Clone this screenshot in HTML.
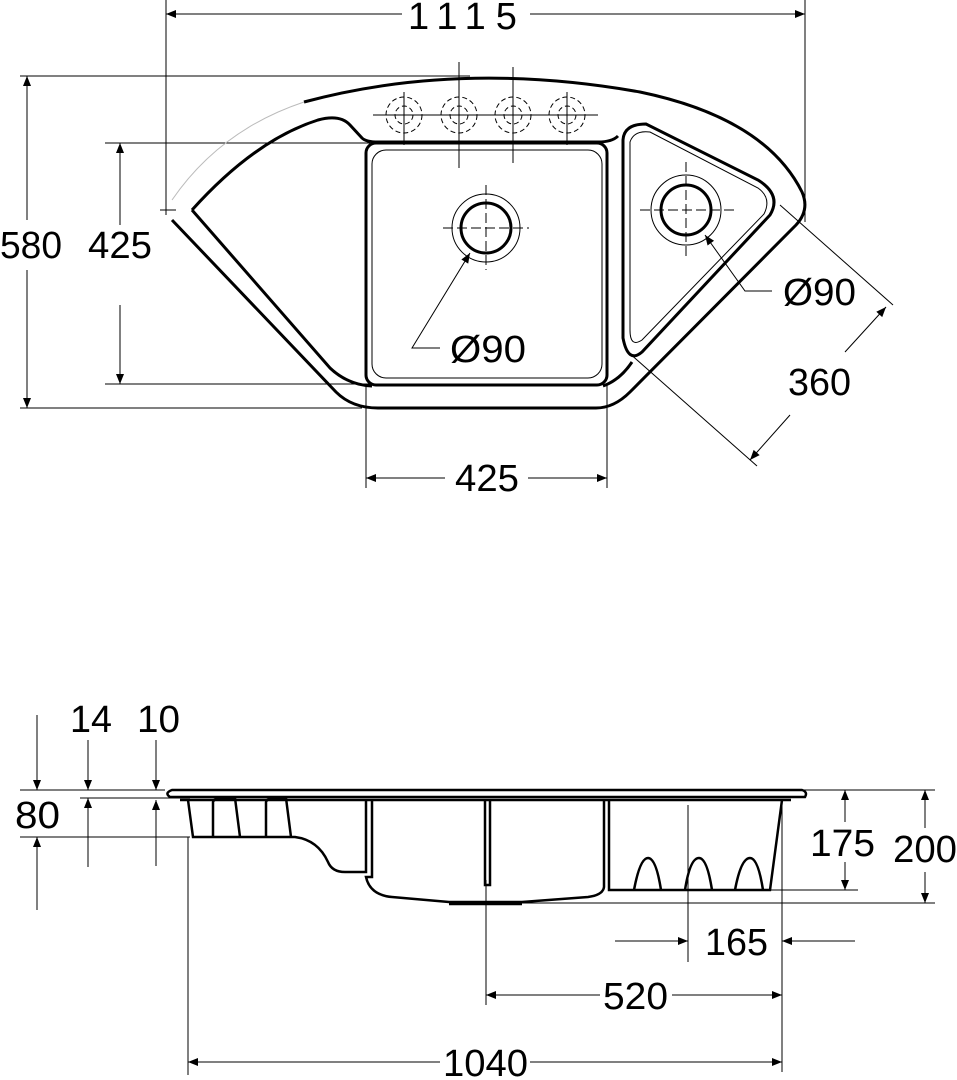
<!DOCTYPE html>
<html><head><meta charset="utf-8"><style>
html,body{margin:0;padding:0;background:#fff;}
svg{display:block;}
text{font-family:"Liberation Sans",sans-serif;font-size:38px;fill:#000;}
</style></head><body>
<svg width="957" height="1080" viewBox="0 0 957 1080" xmlns="http://www.w3.org/2000/svg">
<defs>
<marker id="a" viewBox="0 0 10 10" refX="10" refY="5" markerWidth="22" markerHeight="10" markerUnits="userSpaceOnUse" orient="auto-start-reverse"><path d="M0,1 L10,5 L0,9 Z" fill="#000"/></marker>
</defs>
<g fill="none" stroke="#000" stroke-width="1">
<line x1="166" y1="0" x2="166" y2="215"/><line x1="805" y1="0" x2="805" y2="222"/>
<line x1="166" y1="14" x2="402" y2="14" marker-start="url(#a)"/><line x1="530" y1="14" x2="805" y2="14" marker-end="url(#a)"/>
<line x1="20" y1="76" x2="470" y2="76"/><line x1="20" y1="408" x2="362" y2="408"/>
<line x1="27" y1="76" x2="27" y2="220" marker-start="url(#a)"/><line x1="27" y1="270" x2="27" y2="408" marker-end="url(#a)"/>
<line x1="105" y1="143" x2="370" y2="143"/><line x1="105" y1="384" x2="370" y2="384"/>
<line x1="120" y1="143" x2="120" y2="225" marker-start="url(#a)"/><line x1="120" y1="305" x2="120" y2="384" marker-end="url(#a)"/>
<line x1="366" y1="385" x2="366" y2="488"/><line x1="607" y1="385" x2="607" y2="488"/>
<line x1="366" y1="478" x2="445" y2="478" marker-start="url(#a)"/><line x1="528" y1="478" x2="607" y2="478" marker-end="url(#a)"/>
<line x1="780" y1="205" x2="893" y2="305"/><line x1="628" y1="352" x2="757" y2="466"/>
<line x1="750" y1="460" x2="790" y2="415" marker-start="url(#a)"/><line x1="845" y1="352" x2="886" y2="307" marker-end="url(#a)"/>
<polyline points="440,348 412,348 470,253" marker-end="url(#a)"/>
<polyline points="772,291 745,291 705,235" marker-end="url(#a)"/>
</g>
<g fill="none" stroke="#000" stroke-width="3">
<path d="M304,102 Q460,60 640,92 Q765,118 802,192 Q810,210 796,225 L630,392 Q614,408 596,408 L378,408 Q352,408 336,392 L172,220"/>
<path d="M192,210 Q255,140 318,120 Q340,114 350,125 L362,138 Q366,142 378,142 L598,142 Q612,142 618,136"/>
<path d="M192,210 L330,368 Q348,385 372,386"/>
<path d="M603,386 Q620,380 632,362"/>
<rect x="366" y="143" width="241" height="242" rx="10"/>
<path d="M623,140 Q624,124 646,124 L758,180 Q782,195 770,215 L642,352 Q628,364 623,338 Z"/>
<circle cx="486" cy="228" r="25"/>
<circle cx="686" cy="210" r="25"/>
</g>
<g fill="none" stroke="#000" stroke-width="1">
<path d="M172,200 Q220,130 304,102" stroke="#bbb"/>
<line x1="160" y1="210" x2="176" y2="210"/>
<rect x="372" y="150" width="230" height="228" rx="14"/>
<path d="M630,142 Q634,130 650,132 L758,188 Q772,198 764,214 L642,340 Q630,348 630,330 Z"/>
<circle cx="486" cy="228" r="34"/>
<circle cx="686" cy="210" r="35"/>
<g stroke-dasharray="10,4">
<line x1="443" y1="228" x2="529" y2="228"/><line x1="486" y1="185" x2="486" y2="270"/>
<line x1="640" y1="210" x2="735" y2="210"/><line x1="686" y1="162" x2="686" y2="258"/>
</g>
<line x1="459" y1="62" x2="459" y2="168"/><line x1="513" y1="67" x2="513" y2="163"/>
<line x1="404" y1="92" x2="404" y2="145"/><line x1="567" y1="92" x2="567" y2="145"/>
<line x1="373" y1="115" x2="598" y2="115"/>
<g stroke-dasharray="5,3">
<circle cx="404" cy="115" r="18"/><circle cx="459" cy="115" r="18"/><circle cx="513" cy="115" r="18"/><circle cx="567" cy="115" r="18"/>
<circle cx="404" cy="115" r="9"/><circle cx="459" cy="115" r="9"/><circle cx="513" cy="115" r="9"/><circle cx="567" cy="115" r="9"/>
</g>
</g>
<g>
<text x="408" y="29" letter-spacing="10">1115</text>
<text x="0" y="258" textLength="62" lengthAdjust="spacingAndGlyphs">580</text>
<text x="88" y="258" textLength="64" lengthAdjust="spacingAndGlyphs">425</text>
<text x="450" y="362" textLength="76" lengthAdjust="spacingAndGlyphs">Ø90</text>
<text x="783" y="305" textLength="73" lengthAdjust="spacingAndGlyphs">Ø90</text>
<text x="788" y="395" textLength="63" lengthAdjust="spacingAndGlyphs">360</text>
<text x="455" y="491" textLength="64" lengthAdjust="spacingAndGlyphs">425</text>
</g>
<g fill="none" stroke="#000" stroke-width="1">
<line x1="37" y1="715" x2="37" y2="790" marker-end="url(#a)"/><line x1="37" y1="910" x2="37" y2="837" marker-end="url(#a)"/>
<line x1="20" y1="790" x2="165" y2="790"/><line x1="20" y1="837" x2="190" y2="837"/>
<line x1="88" y1="740" x2="88" y2="790" marker-end="url(#a)"/><line x1="88" y1="867" x2="88" y2="798" marker-end="url(#a)"/>
<line x1="80" y1="798" x2="190" y2="798"/>
<line x1="156" y1="740" x2="156" y2="790" marker-end="url(#a)"/><line x1="156" y1="866" x2="156" y2="800" marker-end="url(#a)"/>
<line x1="800" y1="790" x2="935" y2="790"/><line x1="770" y1="890" x2="858" y2="890"/><line x1="520" y1="903" x2="935" y2="903"/>
<line x1="845" y1="790" x2="845" y2="822" marker-start="url(#a)"/><line x1="845" y1="862" x2="845" y2="890" marker-end="url(#a)"/>
<line x1="925" y1="790" x2="925" y2="828" marker-start="url(#a)"/><line x1="925" y1="872" x2="925" y2="903" marker-end="url(#a)"/>
<line x1="688" y1="805" x2="688" y2="962"/><line x1="782" y1="800" x2="782" y2="1072"/>
<line x1="615" y1="941" x2="688" y2="941" marker-end="url(#a)"/><line x1="855" y1="941" x2="782" y2="941" marker-end="url(#a)"/>
<line x1="486" y1="880" x2="486" y2="1005"/>
<line x1="486" y1="995" x2="600" y2="995" marker-start="url(#a)"/><line x1="672" y1="995" x2="782" y2="995" marker-end="url(#a)"/>
<line x1="188" y1="837" x2="188" y2="1075"/>
<line x1="188" y1="1062" x2="440" y2="1062" marker-start="url(#a)"/><line x1="530" y1="1062" x2="782" y2="1062" marker-end="url(#a)"/>
</g>
<g fill="none" stroke="#000" stroke-width="2.5">
<path d="M172,790 L802,790 Q808,792 805,797 L170,797 Q164,793 172,790 Z"/>
<line x1="180" y1="800" x2="791" y2="800"/>
<path d="M188,800 L193,837 L295,837 Q318,840 328,862 Q332,872 345,872 L366,872 L366,800"/>
<path d="M372,800 L372,877 L366,877 Q370,895 392,897 L449,902 L522,902 L588,897 Q603,895 604,887 L604,800"/>
<line x1="449" y1="904" x2="522" y2="904"/>
<path d="M609,800 L609,890 L770,890 L782,800"/>
<path d="M213,837 L213,802 Q214,798 222,798 L235,798 L240,837"/>
<path d="M266,837 L266,802 Q267,798 275,798 L286,798 L291,837"/>
<path d="M485,800 L485,885 L490,885 L490,800"/>
<path d="M634,890 Q640,858 648,858 Q656,858 661,890"/>
<path d="M685,890 Q690,858 699,858 Q707,858 712,890"/>
<path d="M735,890 Q741,858 750,858 Q758,858 763,890"/>
</g>
<g>
<text x="70" y="732" textLength="42" lengthAdjust="spacingAndGlyphs">14</text>
<text x="137" y="732" textLength="43" lengthAdjust="spacingAndGlyphs">10</text>
<text x="15" y="828" textLength="45" lengthAdjust="spacingAndGlyphs">80</text>
<text x="810" y="856" textLength="65" lengthAdjust="spacingAndGlyphs">175</text>
<text x="893" y="862" textLength="64" lengthAdjust="spacingAndGlyphs">200</text>
<text x="705" y="955" textLength="63" lengthAdjust="spacingAndGlyphs">165</text>
<text x="603" y="1009" textLength="65" lengthAdjust="spacingAndGlyphs">520</text>
<text x="443" y="1076" textLength="85" lengthAdjust="spacingAndGlyphs">1040</text>
</g>
</svg>
</body></html>
